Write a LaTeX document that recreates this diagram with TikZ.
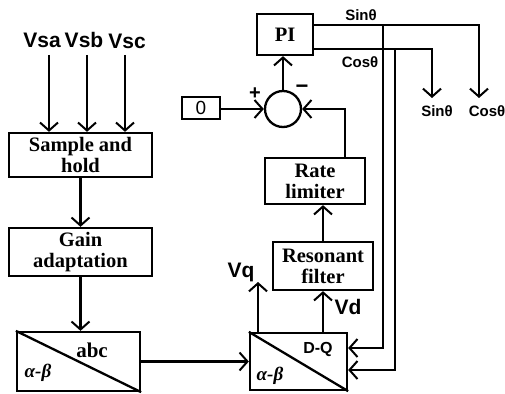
\documentclass[tikz,border=0pt]{standalone}
\usepackage{fontspec}
\setmainfont{Liberation Serif}
\newfontfamily\lsans{Liberation Sans}
\usetikzlibrary{arrows.meta}
\begin{document}
\begin{tikzpicture}[x=1pt,y=-1pt,
  line width=2.3pt,
  arr/.style={-{Straight Barb[length=8pt,width=18pt,line width=2pt]}},
  blk/.style={draw, rectangle, inner sep=0pt, align=center, font=\bfseries\fontsize{20.5}{21}\selectfont},
  xfbox/.style={draw, rectangle, inner sep=0pt},
  lbl/.style={font=\lsans\bfseries\fontsize{21}{22}\selectfont, inner sep=0pt},
  slbl/.style={font=\lsans\bfseries\fontsize{15}{15}\selectfont, inner sep=0pt},
  gtxt/.style={font=\bfseries\itshape\fontsize{19}{19}\selectfont, inner sep=0pt},
]
\useasboundingbox (0,0) rectangle (505,393);

% blocks
\node[blk, minimum width=143pt, minimum height=44pt] (sh) at (80.5,155) {Sample and\\hold};
\node[blk, minimum width=143pt, minimum height=48pt] (ga) at (80.5,252) {Gain\\adaptation};
\node[xfbox, minimum width=123pt, minimum height=59pt] (abc) at (78.5,361.5) {};
\node[xfbox, minimum width=97pt, minimum height=57pt] (dq) at (298.5,361.5) {};
\node[blk, minimum width=100pt, minimum height=48pt] (rf) at (323,266) {Resonant\\filter};
\node[blk, minimum width=100pt, minimum height=46pt] (rl) at (315,181) {Rate\\limiter};
\node[blk, minimum width=56pt, minimum height=41pt] (pi) at (285,34.5) {PI};
\node[xfbox, minimum width=38pt, minimum height=22pt, font=\lsans\fontsize{19}{19}\selectfont] (zero) at (201,108) {0};
\node[draw, circle, minimum size=36pt, inner sep=0pt] (sum) at (283,109) {};

% transform box diagonals and texts
\draw (abc.north west) -- (abc.south east);
\draw (dq.north west) -- (dq.south east);
\node[font=\bfseries\fontsize{21}{21}\selectfont, inner sep=0pt] (abct) at (92,350) {abc};
\node[gtxt] (ab1) at (38,373) {α-β};
\node[font=\lsans\bfseries\fontsize{16}{16}\selectfont, inner sep=0pt] (dqt) at (318,349) {D-Q};
\node[gtxt] (ab2) at (270,376) {α-β};

% input labels
\node[lbl] (vsa) at (42,40) {Vsa};
\node[lbl] (vsb) at (84,40) {Vsb};
\node[lbl] (vsc) at (127,41) {Vsc};
\coordinate (va) at (49,55);
\coordinate (vb) at (87,55);
\coordinate (vc) at (125,55);
\draw[arr] (va) -- (va |- sh.north);
\draw[arr] (vb) -- (vb |- sh.north);
\draw[arr] (vc) -- (vc |- sh.north);

% left chain
\draw[arr] (sh.south) -- (ga.north);
\draw[arr] (ga.south) -- (ga.south |- abc.north);
\draw[arr] (abc.east) -- (abc.east -| dq.west);

% right chain
\draw[arr] (dq.north -| rf.south) -- (rf.south);
\draw[arr] (rf.north) -- (rf.north |- rl.south);
\draw[arr] ([xshift=30pt]rl.north) |- (sum.east);
\draw[arr] (zero.east |- sum.west) -- (sum.west);
\draw[arr] (sum.north) -- (sum.north |- pi.south);
\node[font=\lsans\bfseries\fontsize{20}{20}\selectfont, inner sep=0pt] (plus) at (255,94) {+};
\node[font=\lsans\bfseries\fontsize{22}{22}\selectfont, inner sep=0pt] (minus) at (302,89) {−};

% Vq / Vd
\coordinate (vq) at (258,282);
\draw[arr] (dq.north -| vq) -- (vq);
\node[lbl] (vqt) at (241,272) {Vq};
\node[lbl] (vdt) at (348,307) {Vd};

% PI outputs
\coordinate (cosout) at (479,98);
\coordinate (sinout) at (432,98);
\coordinate (j1) at (383,25);
\coordinate (j2) at (395,49);
\draw[arr] ([yshift=9.5pt]pi.east) -| (cosout);
\draw[arr] ([yshift=-14.5pt]pi.east) -| (sinout);
\draw[arr] (j1) |- ([yshift=13.5pt]dq.east);
\draw[arr] (j2) |- ([yshift=-8.5pt]dq.east);
\node[slbl] (sint) at (361,15) {Sinθ};
\node[slbl] (cost) at (360,62) {Cosθ};
\node[slbl] (sinb) at (437,111) {Sinθ};
\node[slbl] (cosb) at (487,111) {Cosθ};
\end{tikzpicture}
\end{document}
